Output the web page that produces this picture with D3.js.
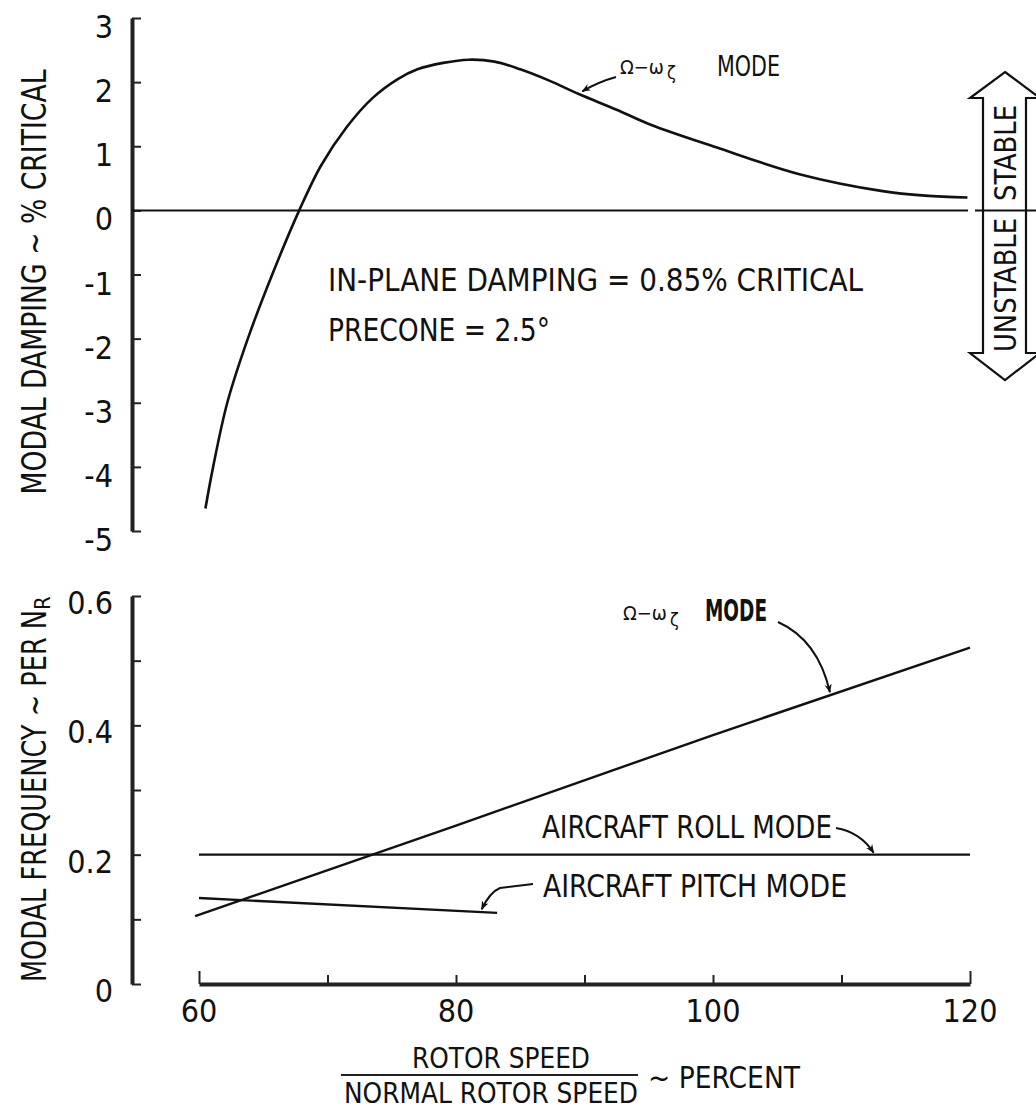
<!DOCTYPE html>
<html>
<head>
    <title></title>
    <meta charset="utf-8">
    <style>
        body { margin: 0; background: #fff; }
        text { font-family: 'DejaVu Sans Condensed', 'Liberation Sans Narrow', sans-serif; fill: #111; }
    </style>
</head>
<body>
<script src="https://d3js.org/d3.v7.min.js"></script>
<script>
    // top panel: modal damping of the Omega - omega_zeta mode
    var dampSpeed = [60.5, 61.1, 62.2, 63.8, 65.7, 67.8, 69.5, 71.5, 73.5, 75.5, 77, 79, 81, 83, 85, 87.3, 89.6, 92.5, 95.1, 100.3, 106.8, 113.2, 116.5, 119.8];
    var damping   = [-4.65, -4.0, -3.0, -2.0, -1.0, 0, 0.7, 1.3, 1.75, 2.05, 2.2, 2.3, 2.35, 2.32, 2.2, 2.02, 1.81, 1.57, 1.34, 0.98, 0.56, 0.30, 0.23, 0.2];

    // bottom panel: modal frequencies
    var omegaSpeed = [59.7, 80, 100, 120];
    var omegaFreq  = [0.105, 0.245, 0.385, 0.52];
    var rollSpeed  = [60, 120];
    var rollFreq   = [0.2, 0.2];
    var pitchSpeed = [60, 83.2];
    var pitchFreq  = [0.133, 0.11];

    var dampTicks = [-5, -4, -3, -2, -1, 0, 1, 2, 3];
    var freqTicks = [0, 0.1, 0.2, 0.3, 0.4, 0.5, 0.6];
    var freqLabels = ['0', '0.2', '0.4', '0.6'];
    var speedTicks = [60, 70, 80, 90, 100, 110, 120];
    var speedLabels = [60, 80, 100, 120];

    var svg = d3.select('body').append('svg')
        .attr('width', 1036)
        .attr('height', 1110);

    var x = d3.scaleLinear().domain([60, 120]).range([199, 970]);
    var yTop = d3.scaleLinear().domain([-5, 3]).range([531, 18]);
    var yBot = d3.scaleLinear().domain([0, 0.6]).range([984, 596]);
    var axisX = 132;

    var defs = svg.append('defs');
    defs.append('marker')
        .attr('id', 'head')
        .attr('viewBox', '0 0 10 10')
        .attr('refX', 9).attr('refY', 5)
        .attr('markerWidth', 9).attr('markerHeight', 9)
        .attr('markerUnits', 'userSpaceOnUse')
        .attr('orient', 'auto')
        .append('path')
        .attr('d', 'M0,1 L10,5 L0,9 L3,5 Z')
        .attr('fill', '#111');

    // y axes, ticks on the right side
    function yAxis(scale, ticks) {
        var g = svg.append('g')
            .attr('transform', 'translate(' + axisX + ',0)')
            .call(d3.axisRight(scale).tickValues(ticks).tickSize(9).tickSizeOuter(0).tickFormat(''));
        g.select('.domain').attr('stroke-width', 4).attr('stroke', '#222');
        g.selectAll('.tick line').attr('stroke-width', 2).attr('stroke', '#222');
        return g;
    }
    yAxis(yTop, dampTicks);
    yAxis(yBot, freqTicks);

    svg.selectAll('.dampLabel').data(dampTicks).enter().append('text')
        .attr('x', 113)
        .attr('y', function (d) { return yTop(d) + 20; })
        .attr('text-anchor', 'end')
        .attr('font-size', 32)
        .text(function (d) { return d < 0 ? '-' + Math.abs(d) : d; });

    svg.selectAll('.freqLabel').data(freqLabels).enter().append('text')
        .attr('x', 113)
        .attr('y', function (d) { return yBot(+d) + 18; })
        .attr('text-anchor', 'end')
        .attr('font-size', 32)
        .text(function (d) { return d; });

    // x axis, ticks pointing up, taller end ticks
    var gx = svg.append('g')
        .attr('transform', 'translate(0,' + yBot(0) + ')')
        .call(d3.axisTop(x).tickValues(speedTicks).tickSize(9).tickSizeOuter(0).tickFormat(''));
    gx.select('.domain').attr('stroke-width', 4).attr('stroke', '#222');
    gx.selectAll('.tick line')
        .attr('stroke-width', 2).attr('stroke', '#222')
        .attr('y2', function (d) { return d === 60 || d === 120 ? -13 : -9; });

    svg.selectAll('.speedLabel').data(speedLabels).enter().append('text')
        .attr('x', function (d) { return x(d); })
        .attr('y', 1022)
        .attr('text-anchor', 'middle')
        .attr('font-size', 32)
        .text(function (d) { return d; });

    // axis titles
    svg.append('text')
        .attr('transform', 'translate(46,282) rotate(-90)')
        .attr('text-anchor', 'middle')
        .attr('font-size', 34)
        .attr('textLength', 425).attr('lengthAdjust', 'spacingAndGlyphs')
        .text('MODAL DAMPING ~ % CRITICAL');

    var fy = svg.append('text')
        .attr('transform', 'translate(46,982) rotate(-90)')
        .attr('font-size', 34);
    fy.append('tspan')
        .attr('textLength', 372).attr('lengthAdjust', 'spacingAndGlyphs')
        .text('MODAL FREQUENCY ~ PER N');
    fy.append('tspan').attr('font-size', 22).attr('dy', 4).text('R');

    svg.append('text')
        .attr('x', 501).attr('y', 1068)
        .attr('text-anchor', 'middle')
        .attr('font-size', 28)
        .attr('textLength', 178).attr('lengthAdjust', 'spacingAndGlyphs')
        .text('ROTOR SPEED');
    svg.append('line')
        .attr('x1', 341).attr('x2', 638)
        .attr('y1', 1075).attr('y2', 1075)
        .attr('stroke', '#222').attr('stroke-width', 2);
    svg.append('text')
        .attr('x', 491).attr('y', 1103)
        .attr('text-anchor', 'middle')
        .attr('font-size', 28)
        .attr('textLength', 294).attr('lengthAdjust', 'spacingAndGlyphs')
        .text('NORMAL ROTOR SPEED');
    svg.append('text')
        .attr('x', 648).attr('y', 1088)
        .attr('font-size', 30)
        .attr('textLength', 152).attr('lengthAdjust', 'spacingAndGlyphs')
        .text('~  PERCENT');

    // top panel: zero line and damping curve
    svg.append('line')
        .attr('x1', axisX).attr('x2', 968)
        .attr('y1', yTop(0)).attr('y2', yTop(0))
        .attr('stroke', '#111').attr('stroke-width', 2);

    var dampLine = d3.line()
        .x(function (d, i) { return x(dampSpeed[i]); })
        .y(function (d) { return yTop(d); })
        .curve(d3.curveCatmullRom);
    svg.append('path')
        .attr('d', dampLine(damping))
        .attr('fill', 'none').attr('stroke', '#111').attr('stroke-width', 2.6);

    // stable / unstable double arrow
    var ax0 = 983, ax1 = 1026, axc = 1005;
    var arrowPath = 'M' + axc + ',72 L1040,98 L' + ax1 + ',98 L' + ax1 + ',353 L1040,353 L' + axc + ',380 L970,353 L' + ax0 + ',353 L' + ax0 + ',98 L970,98 Z';
    svg.append('path')
        .attr('d', arrowPath)
        .attr('fill', '#fff').attr('stroke', '#111').attr('stroke-width', 2.2);
    svg.append('line')
        .attr('x1', 975).attr('x2', 1036)
        .attr('y1', yTop(0)).attr('y2', yTop(0))
        .attr('stroke', '#111').attr('stroke-width', 2);
    svg.append('text')
        .attr('transform', 'translate(1016,153) rotate(-90)')
        .attr('text-anchor', 'middle')
        .attr('font-size', 30)
        .attr('textLength', 96).attr('lengthAdjust', 'spacingAndGlyphs')
        .text('STABLE');
    svg.append('text')
        .attr('transform', 'translate(1016,285) rotate(-90)')
        .attr('text-anchor', 'middle')
        .attr('font-size', 30)
        .attr('textLength', 134).attr('lengthAdjust', 'spacingAndGlyphs')
        .text('UNSTABLE');

    // top annotations
    var t1 = svg.append('text').attr('x', 620).attr('y', 74).attr('font-size', 20);
    t1.append('tspan').text('\u03a9\u2212\u03c9');
    t1.append('tspan').attr('font-size', 18).attr('dy', 5).attr('dx', 3).text('\u03b6');
    svg.append('text')
        .attr('x', 717).attr('y', 76)
        .attr('font-size', 28)
        .attr('textLength', 63).attr('lengthAdjust', 'spacingAndGlyphs')
        .text('MODE');
    svg.append('path')
        .attr('d', 'M616,77 Q598,82 ' + (x(89.6) + 3) + ',' + (yTop(1.81) - 3))
        .attr('fill', 'none').attr('stroke', '#111').attr('stroke-width', 2)
        .attr('marker-end', 'url(#head)');

    svg.append('text')
        .attr('x', 328).attr('y', 291)
        .attr('font-size', 32)
        .attr('textLength', 535).attr('lengthAdjust', 'spacingAndGlyphs')
        .text('IN-PLANE DAMPING = 0.85% CRITICAL');
    svg.append('text')
        .attr('x', 328).attr('y', 341)
        .attr('font-size', 32)
        .attr('textLength', 222).attr('lengthAdjust', 'spacingAndGlyphs')
        .text('PRECONE = 2.5\u00b0');

    // bottom panel lines
    var fline = d3.line()
        .x(function (d) { return x(d[0]); })
        .y(function (d) { return yBot(d[1]); });
    svg.append('path')
        .attr('d', fline(d3.zip(omegaSpeed, omegaFreq)))
        .attr('fill', 'none').attr('stroke', '#111').attr('stroke-width', 2.4);
    svg.append('path')
        .attr('d', fline(d3.zip(rollSpeed, rollFreq)))
        .attr('fill', 'none').attr('stroke', '#111').attr('stroke-width', 2.2);
    svg.append('path')
        .attr('d', fline(d3.zip(pitchSpeed, pitchFreq)))
        .attr('fill', 'none').attr('stroke', '#111').attr('stroke-width', 2.4);

    // bottom annotations
    var t2 = svg.append('text').attr('x', 623).attr('y', 620).attr('font-size', 20);
    t2.append('tspan').text('\u03a9\u2212\u03c9');
    t2.append('tspan').attr('font-size', 18).attr('dy', 6).attr('dx', 3).text('\u03b6');
    svg.append('text')
        .attr('x', 705).attr('y', 621)
        .attr('font-size', 30).attr('font-weight', 'bold')
        .attr('textLength', 62).attr('lengthAdjust', 'spacingAndGlyphs')
        .text('MODE');
    svg.append('path')
        .attr('d', 'M778,622 Q818,640 ' + x(109.1) + ',' + (yBot(0.445) - 4))
        .attr('fill', 'none').attr('stroke', '#111').attr('stroke-width', 2)
        .attr('marker-end', 'url(#head)');

    svg.append('text')
        .attr('x', 542).attr('y', 838)
        .attr('font-size', 32)
        .attr('textLength', 290).attr('lengthAdjust', 'spacingAndGlyphs')
        .text('AIRCRAFT ROLL MODE');
    svg.append('path')
        .attr('d', 'M836,828 Q860,832 ' + x(112.5) + ',' + (yBot(0.2) - 2))
        .attr('fill', 'none').attr('stroke', '#111').attr('stroke-width', 2)
        .attr('marker-end', 'url(#head)');

    svg.append('text')
        .attr('x', 543).attr('y', 897)
        .attr('font-size', 32)
        .attr('textLength', 304).attr('lengthAdjust', 'spacingAndGlyphs')
        .text('AIRCRAFT PITCH MODE');
    svg.append('path')
        .attr('d', 'M533,884 L500,888 Q490,892 ' + x(82) + ',' + (yBot(0.111) - 3))
        .attr('fill', 'none').attr('stroke', '#111').attr('stroke-width', 2)
        .attr('marker-end', 'url(#head)');
</script>
</body>
</html>
